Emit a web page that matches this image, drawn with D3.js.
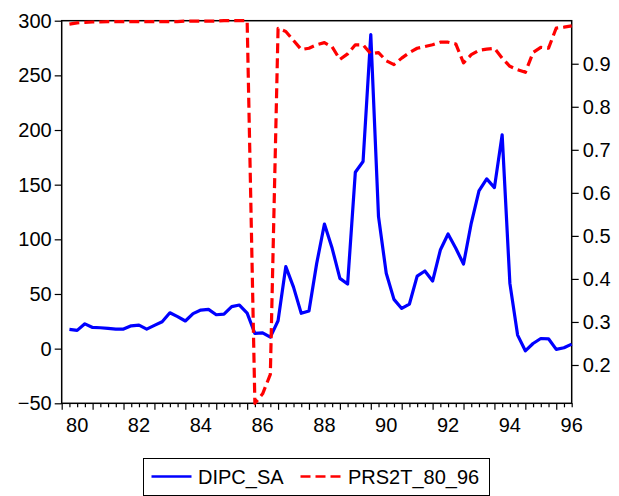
<!DOCTYPE html>
<html>
<head>
<meta charset="utf-8">
<script src="https://cdn.jsdelivr.net/npm/d3@7.9.0/dist/d3.min.js"></script>
<style>
  html, body { margin: 0; padding: 0; background: #fff; }
  svg { display: block; font-family: "Liberation Sans", Arial, sans-serif; }
</style>
</head>
<body>
<svg id="chart" width="619" height="496"></svg>
<script>
// quarterly observations 1980Q1 .. 1996Q2
const firstYear = 1980;
const quarters = d3.range(66).map(i => `${firstYear + Math.floor(i / 4)}Q${(i % 4) + 1}`);

const dipcSa = [
  17.6, 16.7, 22.7, 19.4, 19.1, 18.5, 17.9, 17.9,
  20.9, 21.5, 17.9, 21.3, 24.6, 32.8, 29.3, 25.3,
  32.0, 35.3, 35.9, 31.0, 31.6, 38.5, 39.9, 32.5,
  13.9, 14.5, 10.5, 25.5, 75.0, 56.3, 32.3, 34.4,
  78.0, 114.0, 91.8, 64.3, 59.1, 161.4, 171.2, 287.2,
  120.8, 68.9, 45.1, 36.8, 40.8, 66.4, 71.0, 61.8,
  90.2, 104.9, 91.8, 77.4, 114.7, 144.3, 155.3, 147.3,
  195.6, 59.7, 12.4, -2.0, 4.7, 9.3, 9.0, -0.7,
  0.8, 4.1
];

const prs2t = [
  0.992, 0.995, 0.996, 0.997, 0.997, 0.998, 0.998, 0.998,
  0.998, 0.998, 0.998, 0.998, 0.998, 0.998, 0.998, 0.999,
  0.999, 0.999, 0.999, 0.999, 1.000, 1.000, 1.000, 1.000,
  0.111, 0.133, 0.178, 0.982, 0.975, 0.954, 0.933, 0.936,
  0.944, 0.949, 0.939, 0.910, 0.923, 0.944, 0.944, 0.923,
  0.926, 0.907, 0.898, 0.913, 0.926, 0.936, 0.940, 0.944,
  0.950, 0.950, 0.946, 0.902, 0.921, 0.931, 0.934, 0.936,
  0.913, 0.894, 0.886, 0.880, 0.926, 0.938, 0.936, 0.983,
  0.985, 0.988
];

const leftTicks = [-50, 0, 50, 100, 150, 200, 250, 300];
const rightTicks = [0.2, 0.3, 0.4, 0.5, 0.6, 0.7, 0.8, 0.9];
const xTickLabels = ["80", "82", "84", "86", "88", "90", "92", "94", "96"];
const seriesNames = ["DIPC_SA", "PRS2T_80_96"];

const svg = d3.select('#chart');
const plotLeft = 61.7, plotRight = 571.7, plotTop = 20.7, plotBottom = 403.3;

// observation i sits at the end of its quarter
const obsTime = i => firstYear + (i + 1) / 4;

const x = d3.scaleLinear().domain([1980, 1996.5]).range([plotLeft, plotRight]);
const yLeft = d3.scaleLinear().domain([-50, 300]).range([plotBottom, plotTop]);
const yRight = d3.scaleLinear().domain([0.111, 1.0]).range([plotBottom, plotTop]);

// left axis
const leftAxis = svg.append('g')
  .attr('transform', `translate(${plotLeft},0)`)
  .call(d3.axisLeft(yLeft).tickValues(leftTicks).tickSize(7).tickPadding(3).tickFormat(d3.format('d')));

// right axis
const rightAxis = svg.append('g')
  .attr('transform', `translate(${plotRight},0)`)
  .call(d3.axisRight(yRight).tickValues(rightTicks).tickSize(7).tickPadding(4).tickFormat(d3.format('.1f')));

// bottom axis: minor ticks each quarter, longer ones at year boundaries
const minorTicks = d3.range(1980, 1996.51, 0.25);
const bottomAxis = svg.append('g')
  .attr('transform', `translate(0,${plotBottom})`)
  .call(d3.axisBottom(x).tickValues(minorTicks).tickSize(4).tickFormat(''));
bottomAxis.selectAll('.tick line')
  .attr('y2', d => Math.abs(d - Math.round(d)) < 1e-6 ? 6.5 : 4);

svg.append('g')
  .selectAll('text')
  .data(xTickLabels)
  .join('text')
  .attr('x', d => x(1900 + +d + 0.5))
  .attr('y', plotBottom + 29)
  .attr('text-anchor', 'middle')
  .attr('font-size', 20)
  .attr('fill', '#000')
  .text(d => d);

[leftAxis, rightAxis, bottomAxis].forEach(g => {
  g.selectAll('.domain').remove();
  g.selectAll('.tick line').attr('stroke', '#000').attr('stroke-width', 1.2);
  g.selectAll('.tick text').attr('font-size', 20).attr('fill', '#000').attr('font-family', '"Liberation Sans", Arial, sans-serif');
});

// frame
svg.append('rect')
  .attr('x', plotLeft).attr('y', plotTop)
  .attr('width', plotRight - plotLeft).attr('height', plotBottom - plotTop)
  .attr('fill', 'none').attr('stroke', '#000').attr('stroke-width', 1.5);

const blueLine = d3.line()
  .x((d, i) => x(obsTime(i)))
  .y(d => yLeft(d));

const redLine = d3.line()
  .x((d, i) => x(obsTime(i)))
  .y(d => yRight(d));

svg.append('path')
  .datum(dipcSa)
  .attr('d', blueLine)
  .attr('fill', 'none')
  .attr('stroke', '#0000ff')
  .attr('stroke-width', 3.2)
  .attr('stroke-linejoin', 'round');

svg.append('path')
  .datum(prs2t)
  .attr('d', redLine)
  .attr('fill', 'none')
  .attr('stroke', '#ff0000')
  .attr('stroke-width', 3.2)
  .attr('stroke-dasharray', '10,5')
  .attr('stroke-linejoin', 'round');

// legend
const legend = svg.append('g');
legend.append('rect')
  .attr('x', 143.5).attr('y', 458.5)
  .attr('width', 346).attr('height', 37)
  .attr('fill', '#fff').attr('stroke', '#000').attr('stroke-width', 1);

const legendItems = [
  { name: seriesNames[0], color: '#0000ff', dash: null, x0: 151.5, tx: 198 },
  { name: seriesNames[1], color: '#ff0000', dash: '10,5', x0: 300.5, tx: 348 }
];

legendItems.forEach(d => {
  legend.append('line')
    .attr('x1', d.x0).attr('x2', d.x0 + 40)
    .attr('y1', 476.5).attr('y2', 476.5)
    .attr('stroke', d.color)
    .attr('stroke-width', 2.5)
    .attr('stroke-dasharray', d.dash);
  legend.append('text')
    .attr('x', d.tx).attr('y', 484)
    .attr('font-size', 20)
    .attr('fill', '#000')
    .text(d.name);
});
</script>
</body>
</html>
